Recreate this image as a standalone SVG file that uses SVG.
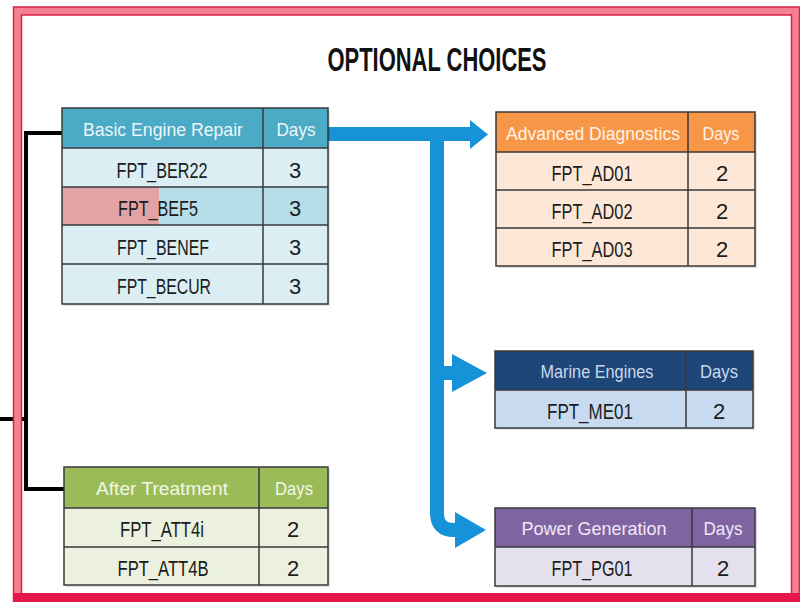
<svg xmlns="http://www.w3.org/2000/svg" width="800" height="602" viewBox="0 0 800 602">
<defs>
<style>
.grid{fill:none;stroke:#3a3a3a;stroke-width:1.5}
.hd{font-family:"Liberation Sans",Arial,sans-serif;font-size:19px;fill:#eef6f9;text-anchor:middle}
.bd{font-family:"Liberation Sans",Arial,sans-serif;font-size:22px;fill:#1c1c1c;text-anchor:middle}
.title{font-family:"Liberation Sans",Arial,sans-serif;font-size:33px;font-weight:bold;fill:#111;text-anchor:middle}
.blue{fill:none;stroke:#1592d8;stroke-width:14}
.head{fill:#1592d8}
.black{fill:none;stroke:#000;stroke-width:4}
.shadow{fill:#000;opacity:0.12}
</style>
</defs>
<rect x="0" y="0" width="800" height="602" fill="#ffffff"/>

<g id="connectors">
<path class="black" d="M0 419 H26"/>
<path class="black" d="M62 133 H26 V489 H64"/>
<path class="blue" d="M328 134 H472"/>
<polygon class="head" points="470,120 488,134.5 470,149"/>
<path class="blue" d="M437 134 V513 Q437 530 454 530 H458"/>
<polygon class="head" points="455,512 486,530 455,548"/>
<path class="blue" d="M437 373 H456"/>
<polygon class="head" points="452,354 487,373 452,392"/>
</g>

<text class="title" x="437" y="71" textLength="219" lengthAdjust="spacingAndGlyphs">OPTIONAL CHOICES</text>

<g id="basic-engine-repair">
<rect class="shadow" x="64" y="110" width="266" height="196"/>
<rect x="62" y="108" width="266" height="40" fill="#4babc6"/>
<rect x="62" y="148" width="266" height="39" fill="#dbeef4"/>
<rect x="62" y="187" width="266" height="38" fill="#b7dde8"/>
<rect x="62" y="187" width="97" height="38" fill="#e3a2a3"/>
<rect x="62" y="225" width="266" height="39" fill="#dbeef4"/>
<rect x="62" y="264" width="266" height="40" fill="#dbeef4"/>
<path class="grid" d="M62 108 H328 V304 H62 Z M263 108 V304 M62 148 H328 M62 187 H328 M62 225 H328 M62 264 H328"/>
<text class="hd" x="163" y="136" textLength="160" lengthAdjust="spacingAndGlyphs">Basic Engine Repair</text>
<text class="hd" x="296" y="136" textLength="39" lengthAdjust="spacingAndGlyphs">Days</text>
<text class="bd" x="162" y="178" textLength="91" lengthAdjust="spacingAndGlyphs">FPT_BER22</text>
<text class="bd" x="158" y="216" textLength="80" lengthAdjust="spacingAndGlyphs">FPT_BEF5</text>
<text class="bd" x="163" y="255" textLength="92" lengthAdjust="spacingAndGlyphs">FPT_BENEF</text>
<text class="bd" x="164" y="294" textLength="94" lengthAdjust="spacingAndGlyphs">FPT_BECUR</text>
<text class="bd" x="295" y="178">3</text>
<text class="bd" x="295" y="216">3</text>
<text class="bd" x="295" y="255">3</text>
<text class="bd" x="295" y="294">3</text>
</g>

<g id="advanced-diagnostics">
<rect class="shadow" x="498" y="114" width="259" height="154"/>
<rect x="496" y="112" width="259" height="40" fill="#f79646"/>
<rect x="496" y="152" width="259" height="114" fill="#fde7d6"/>
<path class="grid" d="M496 112 H755 V266 H496 Z M688 112 V266 M496 152 H755 M496 190 H755 M496 228 H755"/>
<text class="hd" x="593" y="140" textLength="174" lengthAdjust="spacingAndGlyphs" style="fill:#fff3e8">Advanced Diagnostics</text>
<text class="hd" x="721" y="140" textLength="37" lengthAdjust="spacingAndGlyphs" style="fill:#fff3e8">Days</text>
<text class="bd" x="592" y="181" textLength="81" lengthAdjust="spacingAndGlyphs">FPT_AD01</text>
<text class="bd" x="592" y="219" textLength="81" lengthAdjust="spacingAndGlyphs">FPT_AD02</text>
<text class="bd" x="592" y="257" textLength="81" lengthAdjust="spacingAndGlyphs">FPT_AD03</text>
<text class="bd" x="722" y="181">2</text>
<text class="bd" x="722" y="219">2</text>
<text class="bd" x="722" y="257">2</text>
</g>

<g id="marine-engines">
<rect class="shadow" x="497" y="353" width="258" height="77"/>
<rect x="495" y="351" width="258" height="39" fill="#1f4679"/>
<rect x="495" y="390" width="258" height="38" fill="#c8daf0"/>
<path class="grid" d="M495 351 H753 V428 H495 Z M686 351 V428 M495 390 H753"/>
<text class="hd" x="597" y="378" textLength="113" lengthAdjust="spacingAndGlyphs" style="fill:#c9d8ec">Marine Engines</text>
<text class="hd" x="719" y="378" textLength="38" lengthAdjust="spacingAndGlyphs" style="fill:#c9d8ec">Days</text>
<text class="bd" x="590" y="419" textLength="86" lengthAdjust="spacingAndGlyphs">FPT_ME01</text>
<text class="bd" x="719" y="419">2</text>
</g>

<g id="power-generation">
<rect class="shadow" x="497" y="510" width="260" height="78"/>
<rect x="495" y="508" width="260" height="39" fill="#8064a2"/>
<rect x="495" y="547" width="260" height="39" fill="#e5e0ed"/>
<path class="grid" d="M495 508 H755 V586 H495 Z M692 508 V586 M495 547 H755"/>
<text class="hd" x="594" y="535" textLength="145" lengthAdjust="spacingAndGlyphs" style="fill:#efe9f6">Power Generation</text>
<text class="hd" x="723" y="535" textLength="39" lengthAdjust="spacingAndGlyphs" style="fill:#efe9f6">Days</text>
<text class="bd" x="592" y="576" textLength="81" lengthAdjust="spacingAndGlyphs">FPT_PG01</text>
<text class="bd" x="723" y="576">2</text>
</g>

<g id="after-treatment">
<rect class="shadow" x="66" y="469" width="264" height="118"/>
<rect x="64" y="467" width="264" height="41" fill="#9bbb59"/>
<rect x="64" y="508" width="264" height="77" fill="#ebf1de"/>
<path class="grid" d="M64 467 H328 V585 H64 Z M259 467 V585 M64 508 H328 M64 547 H328"/>
<text class="hd" x="162" y="495" textLength="132" lengthAdjust="spacingAndGlyphs" style="fill:#f2f7e6">After Treatment</text>
<text class="hd" x="294" y="495" textLength="38" lengthAdjust="spacingAndGlyphs" style="fill:#f2f7e6">Days</text>
<text class="bd" x="162" y="537" textLength="84" lengthAdjust="spacingAndGlyphs">FPT_ATT4i</text>
<text class="bd" x="163" y="576" textLength="91" lengthAdjust="spacingAndGlyphs">FPT_ATT4B</text>
<text class="bd" x="293" y="537">2</text>
<text class="bd" x="293" y="576">2</text>
</g>

<g id="frame">
<rect x="17.5" y="11" width="778" height="587" fill="none" stroke="#f5808f" stroke-width="8"/>
<rect x="13.5" y="7" width="786" height="595" fill="none" stroke="#dc1f49" stroke-width="1.5"/>
<rect x="21.5" y="15" width="770" height="579" fill="none" stroke="#dc1f49" stroke-width="1.5"/>
<rect x="13" y="593" width="787" height="9" fill="#e5164a"/>
</g>
</svg>
